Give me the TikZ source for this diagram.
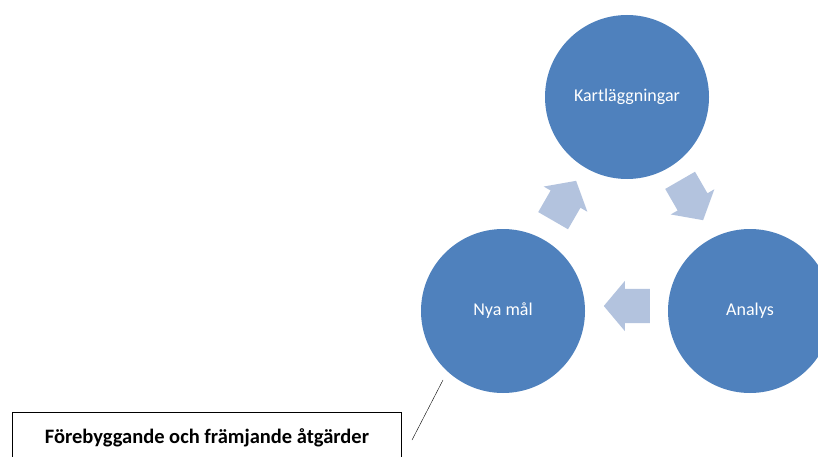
\documentclass[tikz,border=0pt]{standalone}
\usepackage{fontspec}
\setmainfont{Carlito}
\usetikzlibrary{shapes.arrows}
\definecolor{cirkelbla}{HTML}{4F81BD}
\definecolor{pilbla}{HTML}{B3C3DE}
\tikzset{
  cirkel/.style={circle, fill=cirkelbla, minimum size=164pt, inner sep=0pt, text=white, font=\fontsize{18}{20}\selectfont},
  pil/.style={single arrow, fill=pilbla, minimum height=46pt, inner xsep=0pt, inner ysep=17pt, single arrow head extend=8pt, single arrow tip angle=100}
}
\begin{document}
\begin{tikzpicture}[x=1pt, y=-1pt]
\useasboundingbox (0,0) rectangle (818,457);
\node[cirkel](kart) at (627,97) {Kartläggningar};
\node[cirkel](analys) at (750,311) {Analys};
\node[cirkel](nya) at (503,311) {Nya mål};

\node[pil, rotate=60](p1) at (561,207) {};
\node[pil, rotate=-60](p2) at (688,194) {};
\node[pil, rotate=180](p3) at (634,306) {};

\draw[thick] (12,470) rectangle (401,412);
\node[font=\bfseries\fontsize{20.5}{22}\selectfont](atgard) at (207,438) {Förebyggande och främjande åtgärder};
\coordinate (a) at (412,440);
\coordinate (b) at (443,380);
\draw (a)--(b);
\end{tikzpicture}
\end{document}
